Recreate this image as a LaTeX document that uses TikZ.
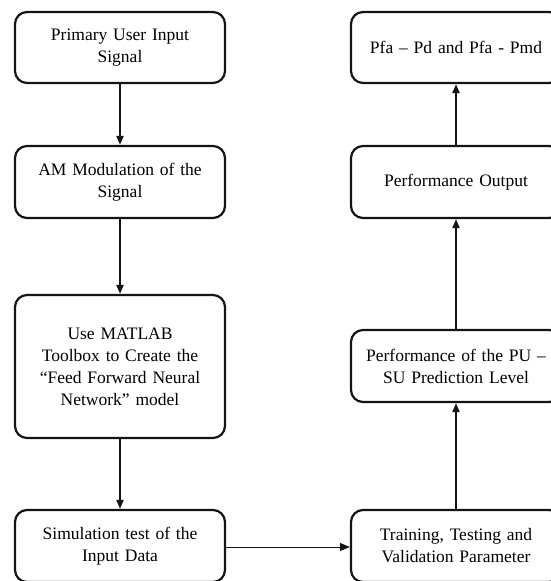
\documentclass[tikz,border=0pt]{standalone}
\usepackage{fontspec}
\setmainfont{Liberation Serif}
\usetikzlibrary{positioning, arrows.meta}
\definecolor{BoxInk}{RGB}{20,20,20}
\tikzset{
  stepbox/.style={draw=BoxInk, line width=2.2pt, rounded corners=12pt, fill=white,
    align=center, text width=#1, inner sep=0pt,
    font=\fontsize{17.5}{22}\selectfont},
  stepbox/.default=190pt,
  flow/.style={line width=2pt, BoxInk, -{Triangle[length=9pt, width=7pt]}},
  thinflow/.style={line width=1pt, BoxInk, -{Triangle[length=10pt, width=8pt]}}
}
\begin{document}
\begin{tikzpicture}[x=1pt, y=-1pt]
      \useasboundingbox (0,0) rectangle (550,581);
      % left column
      \node[stepbox, minimum width=210pt, minimum height=71pt] (input) at (120,47.5) {Primary User Input\\Signal};
      \node[stepbox, minimum width=210pt, minimum height=72pt] (modul) at (120,182) {AM Modulation of the\\Signal};
      \node[stepbox, minimum width=210pt, minimum height=143pt] (ffnn) at (120,366.5) {Use MATLAB\\Toolbox to Create the\\``Feed Forward Neural\\Network'' model};
      \node[stepbox, minimum width=210pt, minimum height=72pt] (simul) at (120,546) {Simulation test of the\\Input Data};
      % right column
      \node[stepbox, minimum width=210pt, minimum height=71pt] (pfa) at (456,47.5) {Pfa -- Pd and Pfa - Pmd};
      \node[stepbox, minimum width=210pt, minimum height=72pt] (perfout) at (456,182) {Performance Output};
      \node[stepbox, minimum width=210pt, minimum height=72pt] (pred) at (456,366) {Performance of the PU --\\SU Prediction Level};
      \node[stepbox, minimum width=210pt, minimum height=72pt] (train) at (456,546) {Training, Testing and\\Validation Parameter};
      % connectors
      \draw[flow] (input) -- (modul);
      \draw[flow] (modul) -- (ffnn);
      \draw[flow] (ffnn) -- (simul);
      \draw[thinflow] (simul.east |- 0,547) -- (train.west |- 0,547);
      \draw[flow] (train) -- (pred);
      \draw[flow] (pred) -- (perfout);
      \draw[flow] (perfout) -- (pfa);
    \end{tikzpicture}
\end{document}
